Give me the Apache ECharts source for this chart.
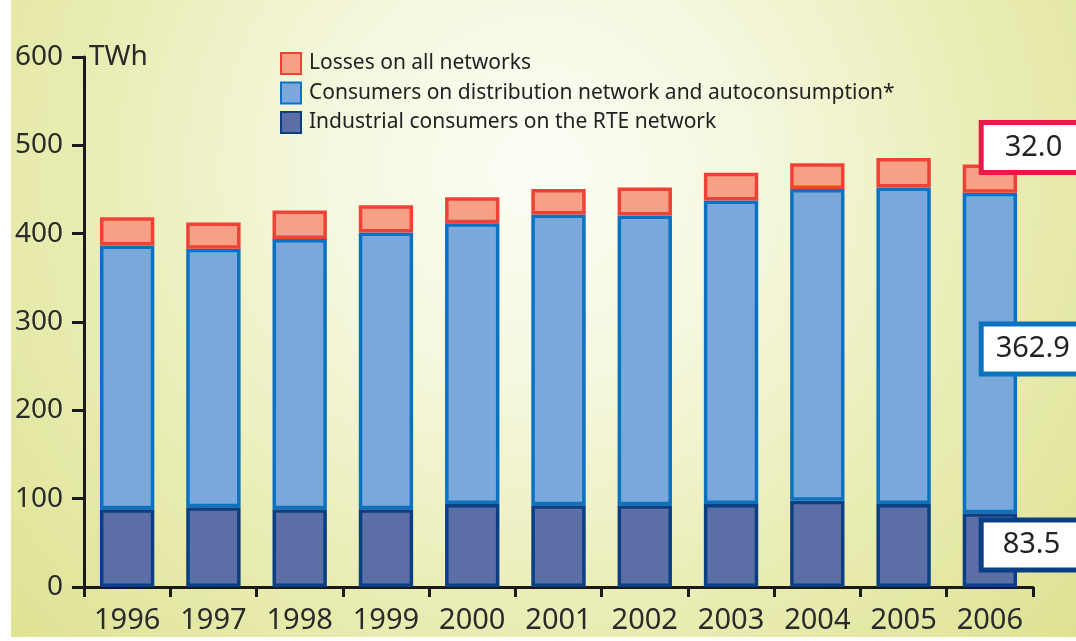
<!DOCTYPE html>
<html>
<head>
<meta charset="utf-8">
<script src="https://cdn.jsdelivr.net/npm/echarts@6/dist/echarts.min.js"></script>
<style>
html,body{margin:0;padding:0;background:#ffffff;}
#chart{width:1076px;height:641px;}
</style>
</head>
<body>
<div id="chart"></div>
<script>
// ---- data ----
const years = ['1996','1997','1998','1999','2000','2001','2002','2003','2004','2005','2006'];
const industrial = [88.0, 90.3, 88.0, 88.0, 94.0, 92.5, 92.5, 94.0, 97.7, 94.0, 83.5];
const distribution = [298.6, 292.7, 306.1, 313.2, 317.9, 329.1, 328.0, 343.5, 353.0, 358.2, 362.9];
const losses = [31.9, 29.6, 32.1, 31.1, 29.4, 29.1, 31.7, 31.4, 29.1, 33.6, 32.0];
const seriesNames = ['Losses on all networks', 'Consumers on distribution network and autoconsumption*', 'Industrial consumers on the RTE network'];
const yTicks = [0, 100, 200, 300, 400, 500, 600];
const unitLabel = 'TWh';

const FONT = 'Noto Sans';

function withLastLabel(arr, borderColor, offsetY, padLeft) {
  return arr.map((v, i) => {
    if (i !== arr.length - 1) return v;
    return {
      value: v,
      label: {
        show: true,
        position: [21, '50%'],
        align: 'left',
        verticalAlign: 'middle',
        offset: [0, offsetY],
        formatter: (p) => p.value.toFixed(1),
        fontFamily: FONT,
        fontSize: 29,
        color: '#222222',
        lineHeight: 32,
        backgroundColor: '#ffffff',
        borderColor: borderColor,
        borderWidth: 5,
        padding: [7, 40, 6, padLeft]
      }
    };
  });
}

const chart = echarts.init(document.getElementById('chart'), null, {renderer: 'canvas'});

const option = {
  animation: false,
  backgroundColor: '#ffffff',
  graphic: [
    {
      type: 'rect',
      z: -100,
      silent: true,
      shape: {x: 11, y: 0, width: 1065, height: 637},
      style: {
        fill: new echarts.graphic.RadialGradient(540, 170, 720, [
          {offset: 0, color: '#fdfdf6'},
          {offset: 0.3, color: '#f5f7de'},
          {offset: 0.65, color: '#e9ecb1'},
          {offset: 1, color: '#dde292'}
        ], true)
      }
    },
    {
      type: 'text',
      left: 89,
      top: 43,
      style: {
        text: unitLabel,
        fontFamily: FONT,
        fontSize: 28,
        fill: '#2a2a2a'
      }
    }
  ],
  legend: {
    orient: 'vertical',
    left: 275,
    top: 47,
    icon: 'rect',
    itemWidth: 20,
    itemHeight: 21,
    itemGap: 6.5,
    data: seriesNames,
    textStyle: {
      fontFamily: FONT,
      fontSize: 21,
      lineHeight: 21,
      color: '#222222',
      padding: [0, 0, 0, 3]
    }
  },
  grid: {
    left: 84,
    right: 43,
    top: 57,
    bottom: 54,
    containLabel: false
  },
  xAxis: {
    type: 'category',
    data: years,
    boundaryGap: true,
    axisLine: {show: true, lineStyle: {color: '#1a1a1a', width: 3}},
    axisTick: {show: true, length: 10, lineStyle: {color: '#1a1a1a', width: 3}},
    axisLabel: {
      margin: 19,
      fontFamily: FONT,
      fontSize: 29,
      color: '#2a2a2a'
    }
  },
  yAxis: {
    type: 'value',
    min: yTicks[0],
    max: yTicks[yTicks.length - 1],
    interval: 100,
    splitLine: {show: false},
    axisLine: {show: true, lineStyle: {color: '#1a1a1a', width: 3}},
    axisTick: {show: true, length: 12, lineStyle: {color: '#1a1a1a', width: 3}},
    axisLabel: {
      margin: 21,
      fontFamily: FONT,
      fontSize: 28,
      color: '#2a2a2a'
    }
  },
  series: [
    {
      name: seriesNames[2],
      type: 'bar',
      stack: 'total',
      barCategoryGap: '37%',
      itemStyle: {color: '#5b6ea6', borderColor: '#0b3f84', borderWidth: 3.5},
      data: withLastLabel(industrial, '#0b3f84', -5, 19)
    },
    {
      name: seriesNames[1],
      type: 'bar',
      stack: 'total',
      barCategoryGap: '37%',
      itemStyle: {color: '#7ba8da', borderColor: '#0a72c1', borderWidth: 3.5},
      data: withLastLabel(distribution, '#0a72c1', -4, 12)
    },
    {
      name: seriesNames[0],
      type: 'bar',
      stack: 'total',
      barCategoryGap: '37%',
      itemStyle: {color: '#f7a085', borderColor: '#ee4236', borderWidth: 3.5},
      data: withLastLabel(losses, '#e8194a', -31, 21)
    }
  ]
};

chart.setOption(option);
</script>
</body>
</html>
